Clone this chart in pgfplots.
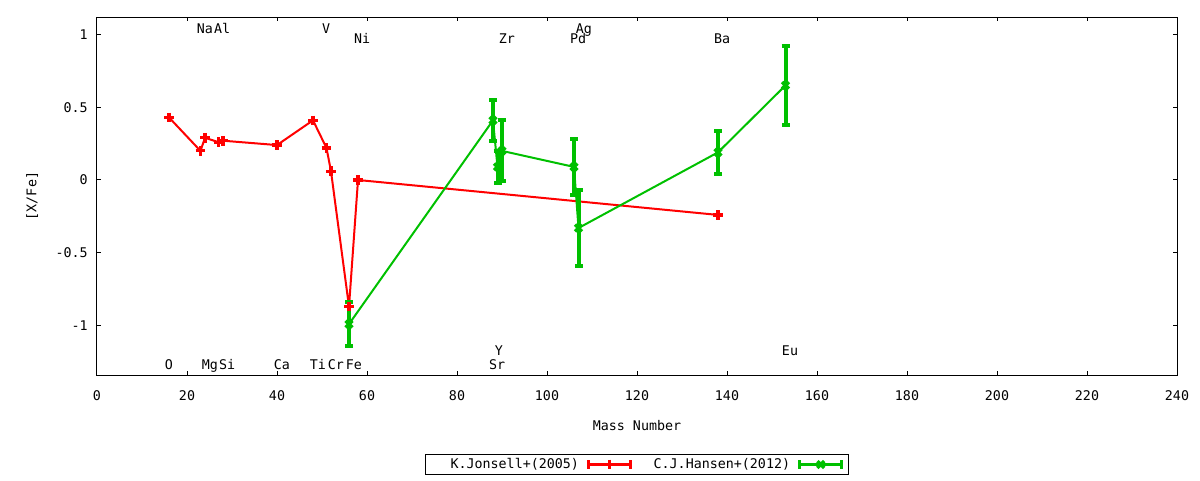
\documentclass[border=0pt]{standalone}
\usepackage{fontspec}
\setmainfont{DejaVu Sans Mono}
\setmonofont{DejaVu Sans Mono}
\usepackage{pgfplots}
\pgfplotsset{compat=1.18}
\definecolor{gpred}{RGB}{255,0,0}
\definecolor{gpgreen}{RGB}{0,192,0}
\pgfplotsset{
  errlegend/.style={
    legend image code/.code={
      \draw[##1, mark=none, line width=2.5pt] (0pt,0pt) -- (31.5pt,0pt);
      \draw[##1, mark=none, line width=2.5pt] (0pt,-3.2pt) -- (0pt,3.2pt) (31.5pt,-3.2pt) -- (31.5pt,3.2pt);
      \draw[##1, mark repeat=2, mark phase=2] plot coordinates {(0pt,0pt) (15.75pt,0pt) (31.5pt,0pt)};
    }
  }
}
\begin{document}
\begin{tikzpicture}
\path[use as bounding box] (-72.75pt,-78.75pt) rectangle (827.25pt,281.25pt);
\begin{axis}[
  at={(0,0)}, anchor=south west,
  scale only axis, width=810pt, height=268.5pt,
  xmin=0, xmax=240, ymin=-1.34, ymax=1.12,
  xtick={0,20,...,240},
  ytick={-1,-0.5,0,0.5,1}, yticklabels={-1,-0.5,0,0.5,1},
  tick align=inside, major tick length=3pt, minor tick num=0,
  axis line style={line width=0.75pt},
  tick style={line width=0.75pt, black},
  /pgf/number format/assume math mode=true,
  xticklabel style={yshift=-8.5pt},
  yticklabel style={xshift=-3.4pt},
  xlabel={Mass Number}, ylabel={[X/Fe]},
  xlabel style={at={(axis description cs:0.5,-0.14)}, anchor=center},
  ylabel style={at={(axis description cs:-0.060,0.5)}, anchor=center},
  clip=false,
  legend columns=2,
  legend plot pos=right,
  legend style={at={(0.5,-0.25)}, anchor=center, draw=black, line width=0.75pt,
    inner xsep=4pt, inner ysep=1pt,
    /tikz/every even column/.append style={column sep=14pt},
    /tikz/every odd column/.append style={column sep=4pt},
    nodes={inner sep=2pt}},
]
\addplot[gpred, line width=1.5pt, mark=+, mark size=3.6pt,
  mark options={line width=2.4pt, solid}, errlegend] coordinates {
  (16,0.43) (23,0.20) (24,0.29) (27,0.26) (28,0.27) (40,0.24)
  (48,0.41) (51,0.22) (52,0.06) (56,-0.87) (58,0.00) (138,-0.24)
};
\addlegendentry{\hspace*{13pt}K.Jonsell+(2005)}
\addplot[gpgreen, line width=1.5pt, mark=x, mark size=3.6pt,
  mark options={line width=2.6pt, solid}, errlegend,
  error bars/.cd, y dir=both, y explicit,
  error bar style={line width=3pt, gpgreen},
  error mark options={rotate=90, line width=3pt, mark size=3pt, gpgreen},
  ] table[x=x, y=y, y error=e] {
  x   y     e
  56  -0.99 0.15
  88  0.41  0.14
  89  0.09  0.11
  90  0.20  0.21
  106 0.09  0.19
  107 -0.33 0.26
  138 0.19  0.15
  153 0.65  0.27
};
\addlegendentry{C.J.Hansen+(2012)}
% element labels
\node[anchor=base] at (axis cs:24.0,1.008) {Na};
\node[anchor=base] at (axis cs:27.8,1.008) {Al};
\node[anchor=base] at (axis cs:50.9,1.008) {V};
\node[anchor=base] at (axis cs:108.2,1.008) {Ag};
\node[anchor=base] at (axis cs:58.9,0.94) {Ni};
\node[anchor=base] at (axis cs:91.1,0.94) {Zr};
\node[anchor=base] at (axis cs:106.9,0.94) {Pd};
\node[anchor=base] at (axis cs:138.9,0.94) {Ba};
\node[anchor=base] at (axis cs:16.0,-1.30) {O};
\node[anchor=base] at (axis cs:25.1,-1.30) {Mg};
\node[anchor=base] at (axis cs:28.9,-1.30) {Si};
\node[anchor=base] at (axis cs:41.1,-1.30) {Ca};
\node[anchor=base] at (axis cs:49.1,-1.30) {Ti};
\node[anchor=base] at (axis cs:53.1,-1.30) {Cr};
\node[anchor=base] at (axis cs:57.1,-1.30) {Fe};
\node[anchor=base] at (axis cs:88.9,-1.30) {Sr};
\node[anchor=base] at (axis cs:89.3,-1.206) {Y};
\node[anchor=base] at (axis cs:154.0,-1.206) {Eu};
\end{axis}
\end{tikzpicture}
\end{document}
